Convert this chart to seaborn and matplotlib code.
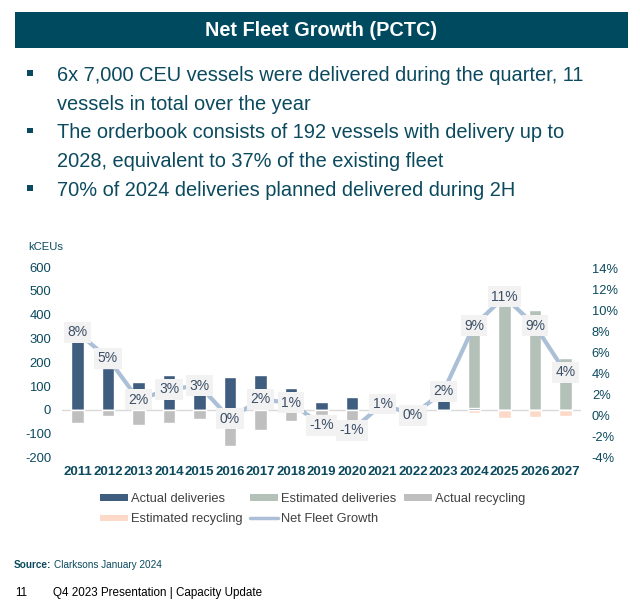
import numpy as np
import pandas as pd
import matplotlib
matplotlib.use("Agg")
import matplotlib.pyplot as plt
from matplotlib.patches import Patch, Rectangle
from matplotlib.lines import Line2D
import seaborn as sns

# ---- data ----
years = list(range(2011, 2028))
actual_deliveries = [290, 178, 118, 146, 70, 139, 147, 91, 32, 53, 5, 2, 74, 7, 0, 0, 0]
estimated_deliveries = [0, 0, 0, 0, 0, 0, 0, 0, 0, 0, 0, 0, 0, 313, 445, 420, 217]
actual_recycling = [-56, -24, -63, -53, -37, -151, -84, -45, -20, -49, -3, -2, -2, 0, 0, 0, 0]
estimated_recycling = [0, 0, 0, 0, 0, 0, 0, 0, 0, 0, 0, 0, 0, -14, -35, -31, -24]
net_fleet_growth = [7.9, 5.45, 1.5, 2.5, 2.85, -0.3, 1.55, 1.2, -0.9, -1.4, 1.1, 0.05, 2.3, 8.55, 11.3, 8.55, 4.1]
growth_labels = ["8%", "5%", "2%", "3%", "3%", "0%", "2%", "1%", "-1%", "-1%", "1%", "0%", "2%", "9%", "11%", "9%", "4%"]
left_ticks = [-200, -100, 0, 100, 200, 300, 400, 500, 600]
right_ticks = [-4, -2, 0, 2, 4, 6, 8, 10, 12, 14]

title = "Net Fleet Growth (PCTC)"
bullets = [
    ["6x 7,000 CEU vessels were delivered during the quarter, 11", "vessels in total over the year"],
    ["The orderbook consists of 192 vessels with delivery up to", "2028, equivalent to 37% of the existing fleet"],
    ["70% of 2024 deliveries planned delivered during 2H"],
]

# ---- style ----
sns.set_theme(style="white")
plt.rcParams["font.family"] = ["Liberation Sans", "DejaVu Sans"]

TEAL = "#0b4a5e"
BAR_DARK = "#3f5d7f"
BAR_EST = "#b4c1b9"
REC_ACT = "#bfbfbf"
REC_EST = "#fcd9c8"
LINE = "#abbfd6"
LABEL_TXT = "#3c4f66"

df = pd.DataFrame({
    "year": years,
    "act_del": actual_deliveries,
    "est_del": estimated_deliveries,
    "act_rec": actual_recycling,
    "est_rec": estimated_recycling,
    "growth": net_fleet_growth,
})
df["del_total"] = df["act_del"] + df["est_del"]
df["rec_total"] = df["act_rec"] + df["est_rec"]

W, H = 640, 608
fig = plt.figure(figsize=(W / 100, H / 100), dpi=100)
fig.patch.set_facecolor("white")

def fx(px):
    return px / W

def fy(py):
    return 1 - py / H

# title bar
fig.patches.append(Rectangle((fx(15), fy(48.3)), fx(628) - fx(15), fy(11.7) - fy(48.3),
                             transform=fig.transFigure, facecolor="#004a5f", edgecolor="none"))
fig.text(fx(321), fy(30), title, color="white", fontsize=14.3, fontweight="bold",
         ha="center", va="center")

# bullets
line_y = 81
for para in bullets:
    fig.patches.append(Rectangle((fx(26.7), fy(line_y - 5)), fx(5.8), 5.6 / H,
                                 transform=fig.transFigure, facecolor=TEAL, edgecolor="none"))
    for ln in para:
        fig.text(fx(57), fy(line_y), ln, color=TEAL, fontsize=14.4, ha="left", va="baseline")
        line_y += 28.7

# ---- chart ----
ax = fig.add_axes([fx(62.25), fy(465), fx(580.75) - fx(62.25), fy(260) - fy(465)])
ax.set_facecolor("none")

common = dict(x="year", native_scale=True, width=0.4, saturation=1, ax=ax, errorbar=None)
sns.barplot(data=df, y="del_total", color=BAR_EST, **common)
sns.barplot(data=df, y="act_del", color=BAR_DARK, **common)
sns.barplot(data=df, y="rec_total", color=REC_EST, **common)
sns.barplot(data=df, y="act_rec", color=REC_ACT, **common)

ax.axhline(0, color="#d9d9d9", lw=1, zorder=0.5)
ax.set_xlim(years[0] - 0.5, years[-1] + 0.5)
ax.set_ylim(-231, 630)
ax.set_yticks(left_ticks)
ax.set_yticklabels([str(t) for t in left_ticks])
ax.set_xticks(years)
ax.set_xticklabels([str(y) for y in years], fontweight="bold")
ax.tick_params(axis="x", length=0, pad=1, labelsize=9.5, labelcolor=TEAL)
ax.tick_params(axis="y", length=0, pad=8, labelsize=9.4, labelcolor=TEAL)
ax.set_xlabel("")
ax.set_ylabel("")
for s in ax.spines.values():
    s.set_visible(False)

ax2 = ax.twinx()
sns.lineplot(data=df, x="year", y="growth", color=LINE, lw=3, ax=ax2)
ax2.set_ylim(-4.70, 14.79)
ax2.set_yticks(right_ticks)
ax2.set_yticklabels([f"{t}%" for t in right_ticks])
ax2.tick_params(axis="y", length=0, pad=8, labelsize=9.3, labelcolor=TEAL)
ax2.set_xlabel("")
ax2.set_ylabel("")
for s in ax2.spines.values():
    s.set_visible(False)

for yr, g, lab in zip(years, net_fleet_growth, growth_labels):
    ax2.text(yr, g, lab, ha="center", va="center", fontsize=10, color=LABEL_TXT,
             bbox=dict(boxstyle="square,pad=0.25", facecolor="#f2f2f2", edgecolor="none"),
             zorder=5)

fig.text(fx(28), fy(246.7), "kCEUs", color=TEAL, fontsize=8.1, ha="left", va="center")

# legend (column-major order to give row layout)
handles = [
    Patch(facecolor=BAR_DARK, edgecolor="none"),
    Patch(facecolor=REC_EST, edgecolor="none"),
    Patch(facecolor=BAR_EST, edgecolor="none"),
    Line2D([0], [0], color=LINE, lw=2.5),
    Patch(facecolor=REC_ACT, edgecolor="none"),
]
labels = ["Actual deliveries", "Estimated recycling", "Estimated deliveries",
          "Net Fleet Growth", "Actual recycling"]
fig.legend(handles, labels, loc="upper left", bbox_to_anchor=(fx(100), fy(493)),
           ncol=3, frameon=False, fontsize=9.3, handlelength=2.15, handleheight=0.4,
           handletextpad=0.25, columnspacing=0.6, labelspacing=0.65, borderpad=0,
           borderaxespad=0, labelcolor="#404040")

# source & footer
t = fig.text(fx(14), fy(565), "Source:", color=TEAL, fontsize=7.2, fontweight="bold",
             ha="left", va="center")
fig.canvas.draw()
bb = t.get_window_extent()
fig.text(bb.x1 / W + fx(2.5), fy(565), "Clarksons January 2024", color=TEAL, fontsize=7.2,
         ha="left", va="center")
fig.text(fx(15), fy(593), "11", color="black", fontsize=8.4, ha="left", va="center")
fig.text(fx(53.3), fy(593), "Q4 2023 Presentation | Capacity Update", color="black",
         fontsize=8.4, ha="left", va="center")

fig.savefig("out.png", dpi=100, facecolor="white")
